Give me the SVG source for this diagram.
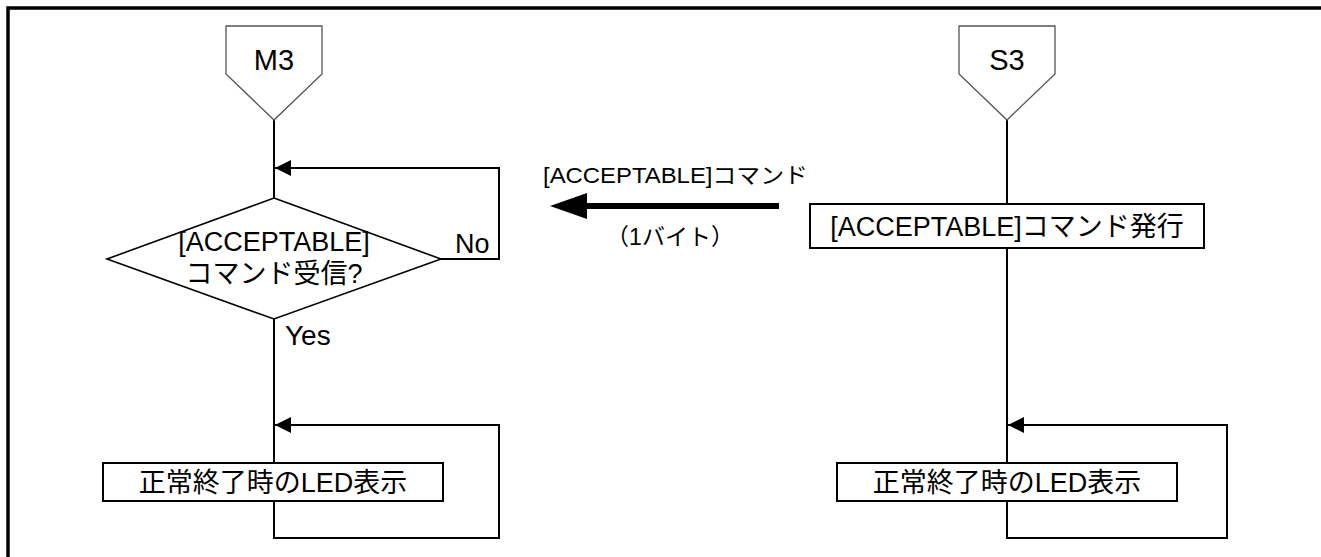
<svg xmlns="http://www.w3.org/2000/svg" width="1321" height="557" viewBox="0 0 1321 557">
<style>
.t{font-family:"Liberation Sans","Noto Sans CJK JP",sans-serif;fill:#000;}
.ln{fill:none;stroke:#000;stroke-width:2;}
.box{fill:#fff;stroke:#000;stroke-width:2;}
.pent{fill:#fff;stroke:#555;stroke-width:1.3;}
</style>
<defs>
<marker id="ah" markerUnits="userSpaceOnUse" markerWidth="17" markerHeight="16" refX="16" refY="8" orient="auto">
<path d="M0,0 L16,8 L0,16 Z" fill="#000"/>
</marker>
</defs>
<rect width="1321" height="557" fill="#fff"/>
<g id="frame">
<path d="M8,557 L8,8 L1321,8" fill="none" stroke="#000" stroke-width="3.5"/>
</g>
<g id="connectors">
<line class="ln" x1="274" y1="120" x2="274" y2="198"/>
<line class="ln" x1="274" y1="319" x2="274" y2="463"/>
<polyline class="ln" points="441,259 499,259 499,168 275,168" marker-end="url(#ah)"/>
<polyline class="ln" points="274,501 274,538 499,538 499,425 275,425" marker-end="url(#ah)"/>
<line class="ln" x1="1007" y1="120" x2="1007" y2="204"/>
<line class="ln" x1="1007" y1="248" x2="1007" y2="463"/>
<polyline class="ln" points="1007,501 1007,538 1227,538 1227,425 1008,425" marker-end="url(#ah)"/>
<line x1="779" y1="206" x2="585" y2="206" stroke="#000" stroke-width="6"/>
<path d="M550,206 L587,193 L587,219 Z" fill="#000"/>
<text class="t" x="543" y="183" font-size="22" textLength="265" lengthAdjust="spacingAndGlyphs">[ACCEPTABLE]コマンド</text>
<text class="t" x="670" y="245" font-size="23" text-anchor="middle">（1バイト）</text>
<text class="t" x="455" y="253" font-size="27">No</text>
<text class="t" x="285" y="345" font-size="28">Yes</text>
</g>
<g id="m3">
<path class="pent" d="M226,26 L322,26 L322,74 L274,120 L226,74 Z"/>
<text class="t" x="274" y="70" font-size="29" text-anchor="middle">M3</text>
</g>
<g id="s3">
<path class="pent" d="M959,26 L1055,26 L1055,74 L1007,120 L959,74 Z"/>
<text class="t" x="1007" y="70" font-size="29" text-anchor="middle">S3</text>
</g>
<g id="decision">
<path d="M274,198 L441,259 L274,319 L107,259 Z" fill="none" stroke="#000" stroke-width="1.6"/>
<text class="t" x="274" y="251" font-size="27" text-anchor="middle">[ACCEPTABLE]</text>
<text class="t" x="274" y="283" font-size="27" text-anchor="middle">コマンド受信?</text>
</g>
<g id="send">
<rect class="box" x="810" y="204" width="394" height="44"/>
<text class="t" x="1007" y="236" font-size="27" text-anchor="middle">[ACCEPTABLE]コマンド発行</text>
</g>
<g id="led-m">
<rect class="box" x="103" y="463" width="340" height="38"/>
<text class="t" x="273" y="492" font-size="27" text-anchor="middle">正常終了時のLED表示</text>
</g>
<g id="led-s">
<rect class="box" x="837" y="463" width="340" height="38"/>
<text class="t" x="1007" y="492" font-size="27" text-anchor="middle">正常終了時のLED表示</text>
</g>
</svg>
